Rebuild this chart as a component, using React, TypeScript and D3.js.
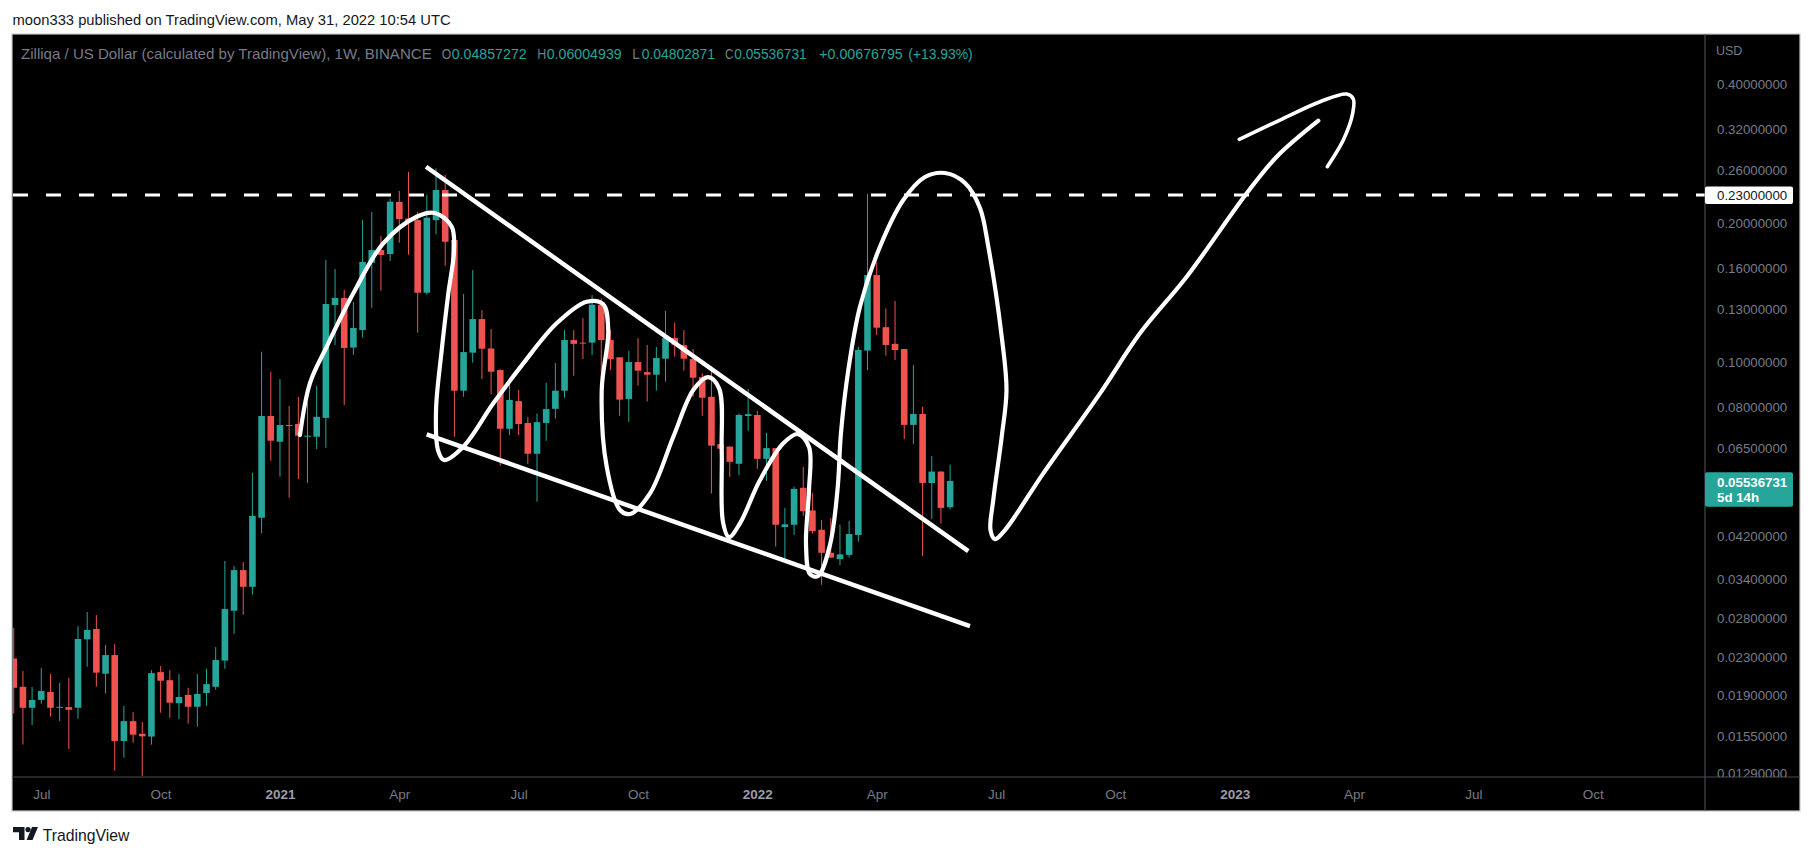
import { useEffect, useRef } from "react";
import * as d3 from "d3";

const W = 1813;
const H = 856;

// weekly bars, one per Monday starting here
const firstBar = "2020-06-15";
const lastBarEnd = "2022-06-06";

const opens = [
  0.02286, 0.01985, 0.01788, 0.0186, 0.01934, 0.01788, 0.01794, 0.01788, 0.02515, 0.02647, 0.02119, 0.02325, 0.01515,
  0.01673, 0.01571, 0.01549, 0.02136, 0.02052, 0.0183, 0.01906, 0.01797, 0.01925, 0.01985, 0.02262, 0.029, 0.0355,
  0.03267, 0.04608, 0.07651,
  0.06731, 0.07316, 0.07352, 0.069, 0.069, 0.0758, 0.133, 0.1378, 0.1076, 0.1174, 0.1642, 0.1749, 0.1715, 0.2222,
  0.2047, 0.203, 0.1414, 0.203, 0.2359, 0.1839, 0.0868, 0.1049, 0.124, 0.1071, 0.0962, 0.0718, 0.0824, 0.0739, 0.0634,
  0.0739, 0.0793, 0.0868, 0.1117, 0.1103, 0.1103, 0.1332, 0.1117, 0.1025, 0.0833, 0.1001, 0.0952, 0.094, 0.1018,
  0.1128, 0.1089, 0.1016, 0.0929, 0.0842, 0.0665, 0.0657, 0.0603, 0.0765,
  0.0769, 0.0618, 0.0652, 0.044, 0.0445, 0.0535, 0.0478, 0.0434, 0.0387, 0.0375, 0.0383, 0.0423, 0.106, 0.1544,
  0.1191, 0.1096, 0.1068, 0.0732, 0.0773, 0.0548, 0.058, 0.04857272,
];
const highs = [
  0.02664, 0.02147, 0.01983, 0.02179, 0.02115, 0.02024, 0.02076, 0.02686, 0.02881, 0.02838, 0.02445, 0.02457, 0.01804,
  0.01751, 0.01665, 0.02157, 0.02201, 0.02157, 0.02115, 0.01975, 0.02115, 0.02172, 0.0242, 0.03714, 0.03622, 0.03696,
  0.05767, 0.1054, 0.0954,
  0.092, 0.0804, 0.0841, 0.0819, 0.0888, 0.1664, 0.1591, 0.1434, 0.135, 0.2031, 0.2114, 0.1876, 0.2262, 0.2347, 0.2581,
  0.2114, 0.2301, 0.2628, 0.2542, 0.1901, 0.1405, 0.1583, 0.1297, 0.118, 0.0965, 0.092, 0.0871, 0.0762, 0.0775, 0.0903,
  0.0996, 0.1174, 0.1174, 0.1246, 0.1398, 0.1375, 0.1174, 0.1025, 0.1058, 0.1127, 0.109, 0.1079, 0.1291, 0.1218,
  0.1174, 0.1068, 0.0947, 0.0981, 0.0769, 0.0657, 0.0775, 0.0875,
  0.0785, 0.0703, 0.0652, 0.0484, 0.0538, 0.0594, 0.0522, 0.0456, 0.046, 0.0445, 0.0454, 0.108, 0.2313, 0.1646, 0.1308,
  0.1357, 0.1068, 0.0986, 0.0801, 0.0627, 0.0581, 0.06004939,
];
const lows = [
  0.01738, 0.01488, 0.01641, 0.01824, 0.01711, 0.01673, 0.01456, 0.01692, 0.02194, 0.01985, 0.01918, 0.01307, 0.01394,
  0.01502, 0.01272, 0.01488, 0.01745, 0.01701, 0.01689, 0.01652, 0.01628, 0.01806, 0.01956, 0.02172, 0.02585, 0.02842,
  0.0314, 0.04264, 0.0612,
  0.05653, 0.05093, 0.05588, 0.05484, 0.0649, 0.0653, 0.109, 0.0808, 0.1038, 0.113, 0.1312, 0.1428, 0.1656, 0.1814,
  0.1708, 0.1159, 0.14, 0.1892, 0.1618, 0.069, 0.0842, 0.0998, 0.092, 0.0854, 0.0597, 0.0696, 0.0696, 0.0603, 0.0499,
  0.0676, 0.0755, 0.0838, 0.0935, 0.1016, 0.1037, 0.0826, 0.0962, 0.0766, 0.0743, 0.089, 0.0822, 0.0868, 0.0908, 0.1028,
  0.0959, 0.0842, 0.0766, 0.052, 0.0598, 0.0565, 0.057, 0.0711,
  0.0588, 0.0554, 0.0399, 0.0373, 0.0423, 0.0465, 0.0426, 0.033, 0.0377, 0.0364, 0.0378, 0.0409, 0.0962, 0.1145, 0.1033,
  0.1011, 0.0682, 0.0665, 0.0381, 0.0458, 0.0448, 0.04802871,
];
const closes = [
  0.01975, 0.01788, 0.01859, 0.01944, 0.01788, 0.01797, 0.0177, 0.02519, 0.02635, 0.0213, 0.02325, 0.01515, 0.01673,
  0.01564, 0.01551, 0.02125, 0.02046, 0.01834, 0.01887, 0.01797, 0.01915, 0.02012, 0.02268, 0.02924, 0.0355, 0.03267,
  0.0465, 0.07651, 0.06765,
  0.07316, 0.0728, 0.06935, 0.06935, 0.0762, 0.1337, 0.1378, 0.1074, 0.1186, 0.1648, 0.1749, 0.1706, 0.2226, 0.2041,
  0.2024, 0.1414, 0.2055, 0.2359, 0.1823, 0.0868, 0.1052, 0.124, 0.107, 0.0954, 0.0718, 0.0829, 0.0735, 0.0634, 0.0742,
  0.0792, 0.0868, 0.1117, 0.1096, 0.1098, 0.1332, 0.1117, 0.1016, 0.083, 0.1001, 0.0959, 0.094, 0.1021, 0.1128, 0.1091,
  0.1018, 0.0926, 0.0838, 0.066, 0.065, 0.0609, 0.0769, 0.0772,
  0.0618, 0.0652, 0.0445, 0.0446, 0.0532, 0.0476, 0.0431, 0.0387, 0.0378, 0.0384, 0.0425, 0.1063, 0.1544, 0.1188,
  0.109, 0.1063, 0.0732, 0.0773, 0.0548, 0.058, 0.0484, 0.05536731,
];

const priceTicks = [0.4, 0.32, 0.26, 0.2, 0.16, 0.13, 0.1, 0.08, 0.065, 0.042, 0.034, 0.028, 0.023, 0.019, 0.0155, 0.0129];
const timeTicks = [
  "2020-07-06", "2020-10-05", "2021-01-04", "2021-04-05", "2021-07-05", "2021-10-04", "2022-01-03",
  "2022-04-04", "2022-07-04", "2022-10-03", "2023-01-02", "2023-04-03", "2023-07-03", "2023-10-02",
];

const resistance = 0.23;
const lastPrice = 0.05536731;

// drawings, as [weeks after 2020-07-06, price]
const drawAnchor = "2020-07-06";
const upperTrend = [[41.91, 0.2649], [100.98, 0.03903]];
const lowerTrend = [[41.98, 0.06983], [101.16, 0.02686]];
const scribble = [
  [28.18, 0.06958], [29.27, 0.09017], [31.09, 0.10805], [33.99, 0.14097], [37.25, 0.18087], [40.89, 0.20649],
  [42.89, 0.21033], [44.71, 0.19646], [44.96, 0.17493], [44.34, 0.14097], [43.62, 0.10628], [43.0, 0.07882],
  [43.21, 0.06458], [43.87, 0.06144], [45.97, 0.06565], [49.24, 0.0815], [52.51, 0.09947], [56.14, 0.12141],
  [59.41, 0.1352], [61.19, 0.13365], [61.76, 0.11742], [61.05, 0.08708], [61.59, 0.05942], [63.04, 0.04789],
  [64.13, 0.04695], [66.31, 0.05204], [68.85, 0.069], [71.02, 0.08708], [72.63, 0.0929], [73.82, 0.08795],
  [74.12, 0.06458], [74.26, 0.04511], [74.91, 0.04186], [76.11, 0.04482], [78.29, 0.05561], [80.83, 0.06677],
  [82.43, 0.06993], [83.63, 0.06555], [83.63, 0.05291], [83.3, 0.04057], [83.74, 0.03481], [84.61, 0.03447],
  [85.91, 0.04022], [86.73, 0.05291], [87.11, 0.07028], [87.91, 0.0962], [89.18, 0.13188], [91.36, 0.17782],
  [93.9, 0.22441], [96.26, 0.25166], [98.44, 0.25674], [100.62, 0.24424], [102.25, 0.21565], [103.16, 0.17782],
  [104.62, 0.11356], [105.14, 0.08708], [104.62, 0.069], [103.7, 0.05034], [103.4, 0.04335], [103.89, 0.04144],
  [104.98, 0.04335], [109.15, 0.0575], [115.33, 0.08566], [119.68, 0.1155], [124.77, 0.15314], [131.31, 0.23203],
  [134.58, 0.27846], [139.11, 0.33314],
];
const arrowHead = [
  [130.5, 0.30368], [134.93, 0.33431], [139.29, 0.36623], [142.2, 0.38056], [142.92, 0.37121], [142.85, 0.34566],
  [141.83, 0.30262], [140.09, 0.26491],
];

const UP = "#26a69a";
const DOWN = "#ef5350";
const AXIS_TXT = "#787b86";
const FONT = "'Liberation Sans', Arial, sans-serif";

const plot = { left: 13, right: 1705, top: 34, bottom: 777 };

const x = d3
  .scaleUtc()
  .domain([new Date("2020-06-14T10:33:00Z"), new Date("2023-12-26T14:24:00Z")])
  .range([plot.left, plot.right]);
const y = d3.scaleLog().domain([0.012665, 0.5132]).range([plot.bottom, plot.top]);

const bars = d3.utcMonday.range(new Date(firstBar), new Date(lastBarEnd)).map((date, i) => ({
  date,
  o: opens[i],
  h: highs[i],
  l: lows[i],
  c: closes[i],
}));

const WEEK = 7 * 24 * 3600 * 1000;
const anchorMs = new Date(drawAnchor).getTime();
const wx = (w: number) => x(new Date(anchorMs + w * WEEK));

const straight = d3
  .line<number[]>()
  .x((d) => wx(d[0]))
  .y((d) => y(d[1]));
const freehand = d3
  .line<number[]>()
  .x((d) => wx(d[0]))
  .y((d) => y(d[1]))
  .curve(d3.curveCatmullRom.alpha(0.5));

export default function App() {
  const xAxisRef = useRef<SVGGElement>(null);
  const yAxisRef = useRef<SVGGElement>(null);

  useEffect(() => {
    if (xAxisRef.current) {
      const g = d3.select(xAxisRef.current);
      g.selectAll("*").remove();
      g.call(
        d3
          .axisBottom(x)
          .tickValues(timeTicks.map((t) => new Date(t)))
          .tickFormat((d) => {
            const dt = d as Date;
            return dt.getUTCMonth() === 0 ? d3.utcFormat("%Y")(dt) : d3.utcFormat("%b")(dt);
          })
          .tickSize(0)
          .tickPadding(12)
      );
      g.select(".domain").remove();
      g.selectAll("text")
        .attr("font-family", FONT)
        .attr("font-size", 13.5)
        .attr("fill", (d) => ((d as Date).getUTCMonth() === 0 ? "#9a9da6" : AXIS_TXT))
        .attr("font-weight", (d) => ((d as Date).getUTCMonth() === 0 ? "bold" : "normal"));
    }
    if (yAxisRef.current) {
      const g = d3.select(yAxisRef.current);
      g.selectAll("*").remove();
      g.call(
        d3
          .axisRight(y)
          .tickValues(priceTicks)
          .tickFormat((d) => (d as number).toFixed(8))
          .tickSize(0)
          .tickPadding(12)
      );
      g.select(".domain").remove();
      g.selectAll("text").attr("font-family", FONT).attr("font-size", 13.3).attr("fill", AXIS_TXT);
    }
  }, []);

  const bodyW = 6.6;
  const yRes = y(resistance);
  const yLast = y(lastPrice);

  const hdr = [
    { t: "O", x: 441.7, w: 9.5, c: AXIS_TXT },
    { t: "0.04857272", x: 451.7, w: 75, c: UP },
    { t: "H", x: 537.3, w: 9, c: AXIS_TXT },
    { t: "0.06004939", x: 546.7, w: 75, c: UP },
    { t: "L", x: 632.3, w: 7.5, c: AXIS_TXT },
    { t: "0.04802871", x: 641.7, w: 73.3, c: UP },
    { t: "C", x: 725, w: 8.5, c: AXIS_TXT },
    { t: "0.05536731", x: 734.3, w: 72.4, c: UP },
    { t: "+0.00676795", x: 819.3, w: 83.4, c: UP },
    { t: "(+13.93%)", x: 908.3, w: 64.4, c: UP },
  ];

  return (
    <svg
      width={W}
      height={H}
      style={{ position: "absolute", left: 0, top: 0, background: "#ffffff" }}
      fontFamily={FONT}
    >
      <defs>
        <clipPath id="plotClip">
          <rect x={plot.left} y={plot.top} width={plot.right - plot.left} height={plot.bottom - plot.top} />
        </clipPath>
      </defs>

      <text x={12.6} y={25} fontSize={14.5} fill="#131722" textLength={438} lengthAdjust="spacingAndGlyphs">
        moon333 published on TradingView.com, May 31, 2022 10:54 UTC
      </text>

      <rect x={12} y={34} width={1788} height={777} fill="#000000" stroke="#c3c6ce" strokeWidth={1.2} />

      {/* candles */}
      <g clipPath="url(#plotClip)">
        {bars.map((b, i) => {
          const cx = x(b.date);
          const col = b.c >= b.o ? UP : DOWN;
          const top = y(Math.max(b.o, b.c));
          const bh = Math.max(1, Math.abs(y(b.o) - y(b.c)));
          return (
            <g key={i}>
              <line x1={cx} x2={cx} y1={y(b.h)} y2={y(b.l)} stroke={col} strokeWidth={1} />
              <rect x={cx - bodyW / 2} y={top} width={bodyW} height={bh} fill={col} />
            </g>
          );
        })}
      </g>

      {/* drawings */}
      <g clipPath="url(#plotClip)" fill="none" stroke="#ffffff">
        <line x1={plot.left} x2={plot.right} y1={yRes} y2={yRes} strokeWidth={3} strokeDasharray="15 18" />
        <path d={straight(upperTrend) ?? ""} strokeWidth={4.5} />
        <path d={straight(lowerTrend) ?? ""} strokeWidth={4.5} />
        <path d={freehand(scribble) ?? ""} strokeWidth={4.2} strokeLinecap="round" strokeLinejoin="round" />
        <path d={freehand(arrowHead) ?? ""} strokeWidth={3.6} strokeLinecap="round" strokeLinejoin="round" />
      </g>

      {/* header */}
      <g fontSize={14.5}>
        <text x={21} y={59} fill={AXIS_TXT} textLength={410.7} lengthAdjust="spacingAndGlyphs">
          Zilliqa / US Dollar (calculated by TradingView), 1W, BINANCE
        </text>
        {hdr.map((h, i) => (
          <text key={i} x={h.x} y={59} fill={h.c} textLength={h.w} lengthAdjust="spacingAndGlyphs">
            {h.t}
          </text>
        ))}
      </g>

      {/* axes frame */}
      <line x1={plot.right} x2={plot.right} y1={34} y2={811} stroke="#55585f" strokeWidth={1} />
      <line x1={12} x2={1800} y1={plot.bottom} y2={plot.bottom} stroke="#4a4d55" strokeWidth={1} />

      <g ref={yAxisRef} transform={`translate(${plot.right},0)`} clipPath="url(#yClip)" />
      <defs>
        <clipPath id="yClip">
          <rect x={0} y={34} width={95} height={plot.bottom - 34} />
        </clipPath>
      </defs>
      <text x={1716} y={55} fontSize={12.5} fill={AXIS_TXT}>
        USD
      </text>
      <g ref={xAxisRef} transform={`translate(0,${plot.bottom})`} />

      {/* price labels */}
      <rect x={plot.right} y={yRes - 8.5} width={88} height={17.4} rx={2} fill="#ffffff" />
      <text x={1717} y={yRes + 5} fontSize={13.3} fill="#131722">
        {resistance.toFixed(8)}
      </text>
      <rect x={plot.right} y={yLast - 8.6} width={88} height={34.4} rx={2} fill={UP} />
      <text x={1717} y={yLast + 5.8} fontSize={13.3} fontWeight="bold" fill="#ffffff">
        {lastPrice.toFixed(8)}
      </text>
      <text x={1717} y={yLast + 21.5} fontSize={13.3} fontWeight="bold" fill="#ffffff">
        5d 14h
      </text>

      {/* footer logo */}
      <g fill="#131722">
        <path d="M13,827 H24.5 V840 H19 V832.3 H13 Z" />
        <circle cx={28} cy={829.6} r={2.6} />
        <path d="M32,827 H38 L32.5,840 H26.6 Z" />
      </g>
      <text x={42.7} y={840.5} fontSize={17} fill="#131722" textLength={86.6} lengthAdjust="spacingAndGlyphs">
        TradingView
      </text>
    </svg>
  );
}
